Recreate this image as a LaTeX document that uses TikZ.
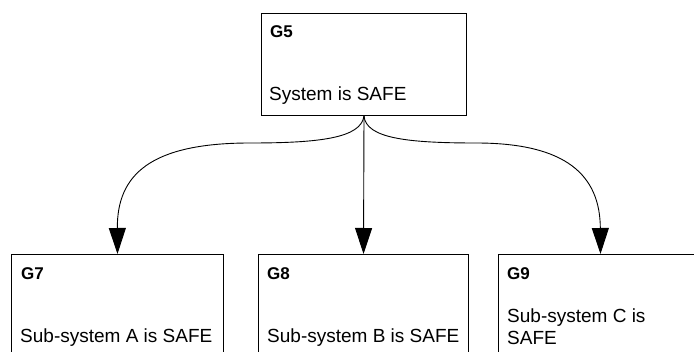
\documentclass[tikz,border=0pt]{standalone}
\usepackage{fontspec}
\setmainfont{Liberation Sans}
\usetikzlibrary{arrows.meta}
\begin{document}
\begin{tikzpicture}[x=1pt,y=-1pt,
  goalbox/.style={draw=black, line width=1pt, rectangle, inner sep=0pt, anchor=north west},
  gid/.style={anchor=base west, inner sep=0pt, font=\fontsize{17}{20}\selectfont\bfseries},
  gtxt/.style={anchor=base west, inner sep=0pt, font=\fontsize{19}{22}\selectfont, align=left},
  link/.style={line width=0.9pt, -{Triangle[length=26pt,width=17pt]}}]
\useasboundingbox (0,0) rectangle (694,352);
\clip (0,0) rectangle (694,352);
% boxes
\node[goalbox, minimum width=205pt, minimum height=102pt] (g5) at (261,13) {};
\node[goalbox, minimum width=212pt, minimum height=130pt] (g7) at (11,254) {};
\node[goalbox, minimum width=210pt, minimum height=130pt] (g8) at (258,254) {};
\node[goalbox, minimum width=204pt, minimum height=130pt] (g9) at (498,254) {};
% texts
\node[gid] (g5id) at (270,38) {G5};
\node[gtxt] (g5txt) at (269,101) {System is SAFE};
\node[gid] (g7id) at (21,280) {G7};
\node[gtxt] (g7txt) at (20,343) {Sub-system A is SAFE};
\node[gid] (g8id) at (267,280) {G8};
\node[gtxt] (g8txt) at (267,343) {Sub-system B is SAFE};
\node[gid] (g9id) at (507,280) {G9};
\node[gtxt] (g9txt) at (507,345) {Sub-system C is\\SAFE};
% connectors
\draw[link] (g5.south) .. controls (361,138) and (320,143) .. (250,143) .. controls (150,143) and (117,175) .. (g7.north);
\draw[link] (g5.south) -- (g8.north);
\draw[link] (g5.south) .. controls (366,138) and (406,143) .. (476,143) .. controls (566,143) and (600,175) .. (g9.north);
\end{tikzpicture}
\end{document}
